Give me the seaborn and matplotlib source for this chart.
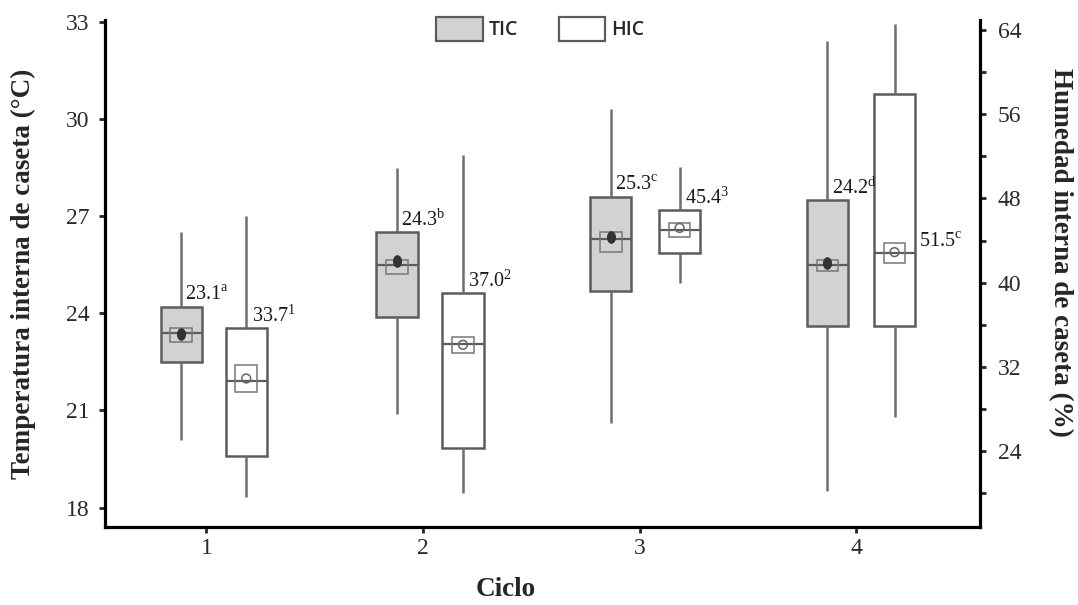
import numpy as np
import pandas as pd
import matplotlib
matplotlib.use("Agg")
import matplotlib.pyplot as plt
import seaborn as sns
from matplotlib.patches import Patch
from matplotlib.path import Path
from matplotlib.transforms import Affine2D
from matplotlib.ticker import MultipleLocator

# ---- data -------------------------------------------------------------
cycles = [1, 2, 3, 4]

# Temperatura interna de caseta (TIC), °C
tic_low = [20.1, 20.9, 20.6, 18.5]
tic_q1 = [22.5, 23.9, 24.7, 23.6]
tic_med = [23.4, 25.5, 26.3, 25.5]
tic_q3 = [24.2, 26.5, 27.6, 27.5]
tic_high = [26.5, 28.5, 30.3, 32.4]
tic_mean = [23.35, 25.6, 26.35, 25.55]
tic_ci_lo = [23.1, 25.2, 25.9, 25.3]
tic_ci_hi = [23.55, 25.65, 26.5, 25.65]
tic_text = [r"23.1$^{\mathregular{a}}$", r"24.3$^{\mathregular{b}}$",
            r"25.3$^{\mathregular{c}}$", r"24.2$^{\mathregular{d}}$"]

# Humedad interna de caseta (HIC), %
hic_low = [19.6, 20.0, 40.0, 27.2]
hic_q1 = [23.5, 24.3, 42.8, 35.9]
hic_med = [30.7, 34.2, 45.0, 42.8]
hic_q3 = [35.7, 39.0, 46.9, 57.9]
hic_high = [46.3, 52.1, 51.0, 64.6]
hic_mean = [30.9, 34.1, 45.2, 42.9]
hic_ci_lo = [29.6, 33.3, 44.3, 41.9]
hic_ci_hi = [32.2, 34.85, 45.7, 43.8]
hic_text = [r"33.7$^{\mathregular{1}}$", r"37.0$^{\mathregular{2}}$",
            r"45.4$^{\mathregular{3}}$", r"51.5$^{\mathregular{c}}$"]

series_names = ["TIC", "HIC"]
temp_ticks = [18, 21, 24, 27, 30, 33]
hum_ticks = [24, 32, 40, 48, 56, 64]

# ---- layout / style ---------------------------------------------------
tic_offset = [-0.116, -0.12, -0.134, -0.134]
hic_offset = [0.184, 0.184, 0.184, 0.176]
box_w = 0.19
ci_w = 0.10
edge = "#5c5c5c"
fill_tic = "#d2d2d2"

sns.set_style("white")
plt.rcParams["font.family"] = ["Liberation Serif", "DejaVu Serif"]
plt.rcParams["mathtext.fontset"] = "stix"

fig = plt.figure(figsize=(10.78, 6.05), dpi=100)
ax = fig.add_axes([0.097, 0.129, 0.812, 0.838])
ax2 = ax.twinx()


def draw_group(axis, pos, low, q1, med, q3, high, facecolor):
    """Box-and-whisker per cycle from the five summary values."""
    vals = np.column_stack([low, q1, med, q3, high]).ravel()
    df = pd.DataFrame({"pos": np.repeat(pos, 5), "val": vals})
    gap = np.min(np.diff(np.sort(pos)))
    sns.boxplot(data=df, x="pos", y="val", native_scale=True,
                width=box_w / gap, whis=np.inf, showcaps=False,
                showfliers=False, color=facecolor, saturation=1,
                linecolor=edge, linewidth=1.8, ax=axis,
                whiskerprops={"color": "#6e6e6e", "linewidth": 1.8},
                medianprops={"color": edge, "linewidth": 1.6})


tic_pos = np.array(cycles) + np.array(tic_offset)
hic_pos = np.array(cycles) + np.array(hic_offset)

draw_group(ax, tic_pos, tic_low, tic_q1, tic_med, tic_q3, tic_high, fill_tic)
draw_group(ax2, hic_pos, hic_low, hic_q1, hic_med, hic_q3, hic_high, "white")

# confidence boxes around the means
ax.bar(tic_pos, np.array(tic_ci_hi) - np.array(tic_ci_lo), bottom=tic_ci_lo,
       width=ci_w, fill=False, edgecolor="#777777", linewidth=1.1, zorder=4)
ax2.bar(hic_pos, np.array(hic_ci_hi) - np.array(hic_ci_lo), bottom=hic_ci_lo,
        width=ci_w, fill=False, edgecolor="#777777", linewidth=1.1, zorder=4)

ellipse = Path.unit_circle().transformed(Affine2D().scale(0.7, 1.0))
sns.scatterplot(x=tic_pos, y=tic_mean, ax=ax, marker=ellipse, s=70,
                color="#333333", edgecolor="#333333", zorder=5, legend=False)
sns.scatterplot(x=hic_pos, y=hic_mean, ax=ax2, marker="o", s=40,
                facecolor="none", edgecolor="#666666", linewidth=1.1,
                zorder=5, legend=False)

# value labels (all drawn on the top axes so no box hides them)
for i in range(len(cycles)):
    ax2.annotate(tic_text[i], xy=(tic_pos[i], tic_q3[i]),
                 xycoords=ax.transData, xytext=(3, 1),
                 textcoords="offset points", ha="left", va="bottom",
                 fontsize=14.5, color="#1a1a1a", zorder=6)
    if i < len(cycles) - 1:
        ax2.annotate(hic_text[i], xy=(hic_pos[i], hic_q3[i]), xytext=(4, 1),
                     textcoords="offset points", ha="left", va="bottom",
                     fontsize=14.5, color="#1a1a1a", zorder=6)
    else:
        ax2.annotate(hic_text[i], xy=(hic_pos[i] + box_w / 2, hic_ci_hi[i]),
                     xytext=(3, 0), textcoords="offset points", ha="left",
                     va="center", fontsize=14.5, color="#1a1a1a", zorder=6)

# axes
ax.set_xlim(0.53, 4.57)
ax.set_ylim(17.4, 33.06)
ax2.set_ylim(16.8, 64.95)
ax.set_xticks(cycles)
ax.set_xticklabels([str(c) for c in cycles])
ax.set_yticks(temp_ticks)
ax2.set_yticks(hum_ticks)
ax2.yaxis.set_minor_locator(MultipleLocator(4))

for a in (ax, ax2):
    for s in a.spines.values():
        s.set_linewidth(2.3)
        s.set_color("black")
    a.spines["top"].set_visible(False)
ax.spines["right"].set_visible(False)
ax2.spines["left"].set_visible(False)
ax2.spines["bottom"].set_visible(False)

ax.tick_params(axis="y", direction="out", length=4, width=2,
               labelsize=17, labelcolor="#2a2a2a", pad=7, left=True)
ax.tick_params(axis="x", direction="out", length=4, width=2,
               labelsize=17, labelcolor="#2a2a2a", pad=4, bottom=True)
ax2.tick_params(axis="y", which="major", direction="out", length=4, width=2,
                labelsize=17, labelcolor="#2a2a2a", pad=9, right=True)
ax2.tick_params(axis="y", which="minor", direction="out", length=4, width=2,
                right=True)

ax.set_xlabel("Ciclo", fontsize=19.5, fontweight="bold")
ax.xaxis.set_label_coords(0.458, -0.098)
ax.set_ylabel("Temperatura interna de caseta (°C)", fontsize=19.5,
              fontweight="bold", labelpad=21)
ax2.set_xlabel("")
ax2.set_ylabel("Humedad interna de caseta (%)", fontsize=19.5,
               fontweight="bold", rotation=270)
ax2.yaxis.set_label_coords(1.106, 0.542)
ax.grid(False)
ax2.grid(False)

handles = [Patch(facecolor=fill_tic, edgecolor=edge, linewidth=1.6),
           Patch(facecolor="white", edgecolor=edge, linewidth=1.6)]
fig.legend(handles, series_names, loc="upper center",
           bbox_to_anchor=(0.501, 1.0), ncol=2, frameon=False,
           handlelength=2.4, handleheight=1.45, handletextpad=0.3,
           columnspacing=2.1,
           prop={"family": "Open Sans", "weight": "semibold", "size": 14})

fig.savefig("out.png", dpi=100)
